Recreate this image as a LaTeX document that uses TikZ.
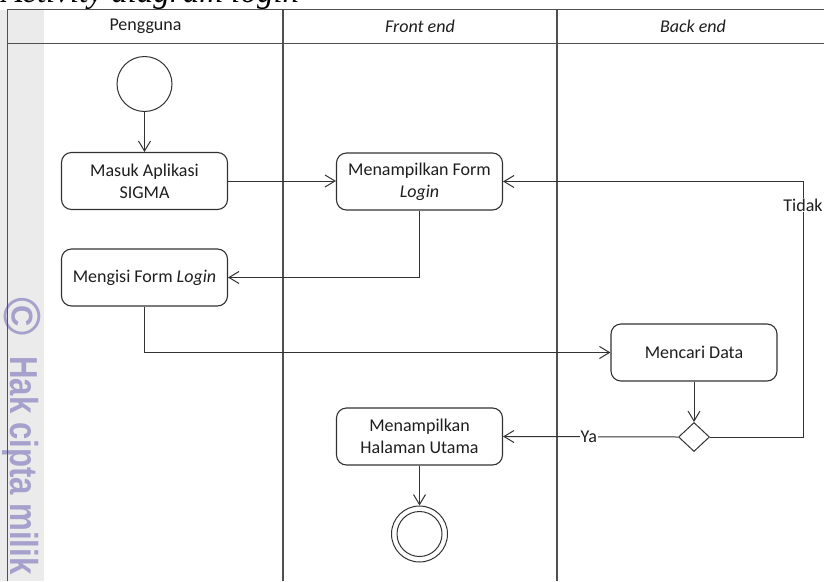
\documentclass[tikz,border=0pt]{standalone}
\usepackage{fontspec}
\setmainfont{Carlito}
\newfontfamily\titlefont{Liberation Serif}
\newfontfamily\wmfont[FakeStretch=0.8]{Liberation Sans}
\newfontfamily\copyfont{Liberation Sans}
\usetikzlibrary{shapes.geometric,arrows.meta}
\definecolor{stripgray}{RGB}{235,235,235}
\definecolor{wmcol}{RGB}{165,161,204}
\definecolor{lanecol}{RGB}{80,80,80}
\definecolor{boxcol}{RGB}{50,50,50}
\definecolor{txtcol}{RGB}{30,30,30}
\tikzset{
  actbox/.style={draw=boxcol, line width=1.1pt, rounded corners=10pt, minimum width=166pt, minimum height=57pt, align=center, inner sep=2pt, font=\fontsize{18}{22}\selectfont, text=txtcol},
  flow/.style={draw=boxcol, line width=1pt, -{Straight Barb[length=10pt,width=12pt,line width=1pt]}},
  lane/.style={draw=lanecol, line width=1.3pt},
  headtxt/.style={font=\fontsize{18}{22}\selectfont, text=txtcol},
  lbl/.style={font=\fontsize{18}{22}\selectfont, text=txtcol, fill=white, inner sep=1pt}
}
\begin{document}
\begin{tikzpicture}[x=1pt,y=-1pt]
\useasboundingbox (0,0) rectangle (824,581);
\clip (0,0) rectangle (824,581);
% title (cut off at the top edge)
\node[anchor=base west, inner sep=0, font=\titlefont\itshape\fontsize{33}{36}\selectfont, text=black] (title) at (2,2) {Activity diagram login};
% gray strip and watermark
\fill[stripgray] (0,9.5) rectangle (44,581);
\node[rotate=-90, anchor=center, inner sep=0, font=\copyfont\bfseries\fontsize{52}{52}\selectfont, text=wmcol] (copy) at (22,317) {©};
\node[rotate=-90, anchor=base west, inner sep=0, font=\wmfont\bfseries\fontsize{39}{39}\selectfont, text=wmcol] (wm) at (10,356) {Hak cipta milik};
% swimlane frame
\draw[lane] (7.5,581) -- (7.5,9.5) -- (824,9.5);
\draw[lane] (7.5,43.5) -- (824,43.5);
\draw[lane] (283,9.5) -- (283,581);
\draw[lane] (557,9.5) -- (557,581);
\node[headtxt] (h1) at (145.5,26.5) {Pengguna};
\node[headtxt] (h2) at (420,26.5) {\itshape Front end};
\node[headtxt] (h3) at (693,26.5) {\itshape Back end};
% nodes
\node[circle, draw=boxcol, line width=1pt, minimum size=55pt, inner sep=0] (start) at (144.5,84) {};
\node[actbox] (masuk) at (144.5,181) {Masuk Aplikasi\\SIGMA};
\node[actbox] (form) at (419.5,181.5) {Menampilkan Form\\\itshape Login};
\node[actbox] (mengisi) at (144.5,277.5) {Mengisi Form \itshape Login};
\node[actbox] (cari) at (694,352.5) {Mencari Data};
\node[diamond, draw=boxcol, line width=1pt, minimum width=31pt, minimum height=29pt, inner sep=0] (dec) at (694,437) {};
\node[actbox] (utama) at (419.5,436.5) {Menampilkan\\Halaman Utama};
\node[circle, draw=boxcol, line width=1pt, minimum size=56pt, inner sep=0] (end) at (419.5,534) {};
\node[circle, draw=boxcol, line width=1pt, minimum size=45pt, inner sep=0] (endin) at (419.5,534) {};
\coordinate (c1) at (803,437);
% connectors
\draw[flow] (start) -- (masuk);
\draw[flow] (masuk.east) -- (masuk.east -| form.west);
\draw[flow] (form.south) |- (mengisi.east);
\draw[flow] (mengisi.south) |- (cari.west);
\draw[flow] (cari) -- (dec);
\draw[flow] (dec.west) -- node[lbl, pos=0.51] (ya) {Ya} (utama.east);
\draw[flow] (dec.east) -- (c1) |- (form.east);
\node[lbl] (tidak) at (803,205) {Tidak};
\draw[flow] (utama) -- (end);
\end{tikzpicture}
\end{document}
